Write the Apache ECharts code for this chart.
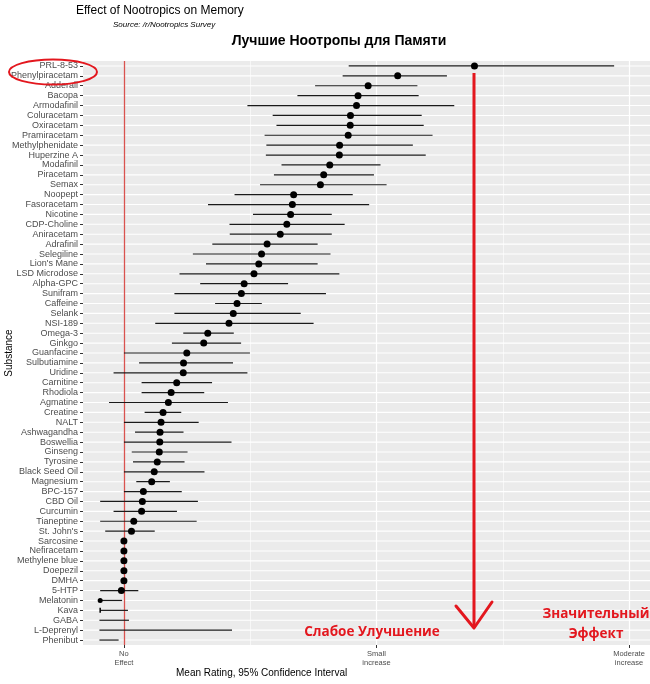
<!DOCTYPE html>
<html><head><meta charset="utf-8">
<script src="https://cdn.jsdelivr.net/npm/echarts@6/dist/echarts.min.js"></script>
<style>html,body{margin:0;padding:0;background:#fff}#c{width:650px;height:684px}</style>
</head><body><div id="c"></div>
<script>
const categories = ['PRL-8-53','Phenylpiracetam','Adderall','Bacopa','Armodafinil','Coluracetam','Oxiracetam','Pramiracetam','Methylphenidate','Huperzine A','Modafinil','Piracetam',
  'Semax','Noopept','Fasoracetam','Nicotine','CDP-Choline','Aniracetam','Adrafinil','Selegiline',"Lion's Mane",'LSD Microdose','Alpha-GPC','Sunifram',
  'Caffeine','Selank','NSI-189','Omega-3','Ginkgo','Guanfacine','Sulbutiamine','Uridine','Carnitine','Rhodiola','Agmatine','Creatine',
  'NALT','Ashwagandha','Boswellia','Ginseng','Tyrosine','Black Seed Oil','Magnesium','BPC-157','CBD Oil','Curcumin','Tianeptine',"St. John's",
  'Sarcosine','Nefiracetam','Methylene blue','Doepezil','DMHA','5-HTP','Melatonin','Kava','GABA','L-Deprenyl','Phenibut'];
const means = [1.388,1.084,0.967,0.927,0.921,0.897,0.896,0.888,0.854,0.853,0.815,0.791,
  0.778,0.672,0.667,0.660,0.645,0.619,0.567,0.545,0.534,0.515,0.476,0.465,
  0.448,0.433,0.416,0.332,0.316,0.249,0.236,0.235,0.209,0.187,0.176,0.155,
  0.147,0.143,0.142,0.140,0.132,0.120,0.110,0.077,0.073,0.070,0.039,0.030,
  0,0,0,0,0,-0.010,-0.094,-0.094,null,null,null];
const lows = [0.890,0.866,0.757,0.687,0.489,0.589,0.604,0.557,0.564,0.562,0.624,0.594,
  0.539,0.438,0.333,0.511,0.418,0.419,0.350,0.273,0.325,0.220,0.302,0.200,
  0.361,0.200,0.124,0.235,0.190,0.0,0.060,-0.041,0.070,0.070,-0.059,0.082,
  0.0,0.044,0.0,0.031,0.036,0.0,0.049,0.0,-0.094,-0.041,-0.094,-0.074,
  0,0,0,0,0,-0.094,-0.094,-0.094,-0.097,-0.097,-0.097];
const highs = [1.941,1.279,1.162,1.167,1.308,1.179,1.187,1.222,1.144,1.195,1.016,0.990,
  1.040,0.906,0.971,0.823,0.874,0.823,0.767,0.818,0.767,0.853,0.650,0.800,
  0.546,0.700,0.751,0.435,0.464,0.499,0.432,0.489,0.349,0.318,0.412,0.227,
  0.296,0.236,0.426,0.252,0.240,0.319,0.182,0.229,0.293,0.210,0.288,0.122,
  0,0,0,0,0,0.057,-0.007,0.016,0.020,0.428,-0.021];
const xTickValues = [0, 1, 2];
const xTickLabels = ['No\nEffect', 'Small\nincrease', 'Moderate\nincrease'];
const minorGridValues = [0.5, 1.5];
const smallPoints = {'Melatonin': 5, 'Kava': [1.5, 5]};

const chart = echarts.init(document.getElementById('c'), null, {renderer: 'canvas'});
const RED = '#e3171e';

const pointData = categories.map((c, i) => {
  if (means[i] === null) return [null, i];
  if (smallPoints[c] !== undefined) {
    return {value: [means[i], i], symbol: c === 'Kava' ? 'rect' : 'circle', symbolSize: smallPoints[c]};
  }
  return [means[i], i];
});
const barData = categories.map((c, i) => [lows[i], highs[i], i]);

const option = {
  animation: false,
  backgroundColor: '#ffffff',
  grid: {left: 83, right: 0, top: 61, bottom: 39, show: true, backgroundColor: '#ebebeb', borderWidth: 0},
  xAxis: {
    type: 'value', min: -0.162, max: 2.083,
    axisLine: {show: false, onZero: false},
    splitLine: {show: false},
    axisTick: {show: true, customValues: xTickValues, length: 3, lineStyle: {color: '#333333', width: 1}},
    axisLabel: {customValues: xTickValues, margin: 5, fontSize: 7.5, lineHeight: 8.5, color: '#4d4d4d',
      fontFamily: 'Liberation Sans', formatter: v => xTickLabels[xTickValues.indexOf(v)] || ''}
  },
  yAxis: {
    type: 'category', data: categories, inverse: true,
    axisLine: {show: false, onZero: false},
    splitLine: {show: false},
    axisTick: {show: true, alignWithLabel: true, length: 3, lineStyle: {color: '#333333', width: 1}},
    axisLabel: {interval: 0, margin: 5, fontSize: 9, color: '#4d4d4d', fontFamily: 'Liberation Sans'}
  },
  series: [
    {
      type: 'custom', name: 'rows', z: 1, silent: true,
      data: categories.map((c, i) => [i]),
      encode: {y: 0},
      renderItem: (params, api) => {
        const cs = params.coordSys;
        const y = api.coord([0, api.value(0)])[1];
        return {type: 'line', shape: {x1: cs.x, y1: y, x2: cs.x + cs.width, y2: y},
          style: {stroke: '#ffffff', lineWidth: 1.1}};
      },
      markLine: {
        silent: true, symbol: 'none', z: 1, animation: false,
        label: {show: false},
        data: [
          ...xTickValues.map(v => ({xAxis: v, lineStyle: {color: '#ffffff', width: 1.2, type: 'solid'}})),
          ...minorGridValues.map(v => ({xAxis: v, lineStyle: {color: '#ffffff', width: 0.6, type: 'solid'}}))
        ]
      }
    },
    {
      type: 'custom', name: 'ci', z: 3, silent: true,
      data: barData,
      encode: {x: [0, 1], y: 2},
      renderItem: (params, api) => {
        const lo = api.value(0), hi = api.value(1), cat = api.value(2);
        if (lo === hi) return null;
        const p1 = api.coord([lo, cat]);
        const p2 = api.coord([hi, cat]);
        return {type: 'line', shape: {x1: p1[0], y1: p1[1], x2: p2[0], y2: p2[1]},
          style: {stroke: '#1a1a1a', lineWidth: 1.2}};
      }
    },
    {
      type: 'scatter', name: 'mean', z: 4, silent: true,
      data: pointData, symbol: 'circle', symbolSize: 7,
      itemStyle: {color: '#000000', opacity: 1},
      markLine: {
        silent: true, symbol: 'none', z: 2, animation: false,
        label: {show: false},
        data: [{xAxis: 0, lineStyle: {color: '#d9534f', width: 1.3, type: 'solid'}}]
      }
    }
  ],
  graphic: [
    {type: 'text', z: 10, style: {text: 'Effect of Nootropics on Memory', x: 76, y: 11, textVerticalAlign: 'middle',
      font: '12px "Liberation Sans"', fill: '#000'}},
    {type: 'text', z: 10, style: {text: 'Source: /r/Nootropics Survey', x: 113, y: 25, textVerticalAlign: 'middle',
      font: 'italic 8px "Liberation Sans"', fill: '#000'}},
    {type: 'text', z: 10, style: {text: 'Лучшие Ноотропы для Памяти', x: 339, y: 41, textAlign: 'center', textVerticalAlign: 'middle',
      font: 'bold 14px "Liberation Sans"', fill: '#000'}},
    {type: 'text', z: 10, style: {text: 'Substance', x: 9, y: 353, textAlign: 'center', textVerticalAlign: 'middle',
      font: '10px "Liberation Sans"', fill: '#000'}, rotation: Math.PI / 2, x: 0, y: 0, originX: 9, originY: 353},
    {type: 'text', z: 10, style: {text: 'Mean Rating, 95% Confidence Interval', x: 176, y: 673, textVerticalAlign: 'middle',
      font: '10px "Liberation Sans"', fill: '#000'}},
    {type: 'text', z: 10, style: {text: 'Слабое Улучшение', x: 372, y: 632, textAlign: 'center', textVerticalAlign: 'middle',
      font: 'bold 13.5px "Open Sans"', fill: RED}},
    {type: 'text', z: 10, style: {text: 'Значительный', x: 596, y: 614, textAlign: 'center', textVerticalAlign: 'middle',
      font: 'bold 13.5px "Open Sans"', fill: RED}},
    {type: 'text', z: 10, style: {text: 'Эффект', x: 596, y: 634, textAlign: 'center', textVerticalAlign: 'middle',
      font: 'bold 13.5px "Open Sans"', fill: RED}},
    {type: 'line', z: 10, shape: {x1: 474, y1: 73, x2: 474, y2: 628}, style: {stroke: RED, lineWidth: 3}},
    {type: 'polyline', z: 10, shape: {points: [[456, 606], [474, 628], [492, 602]]}, style: {stroke: RED, lineWidth: 3, fill: null, lineJoin: 'round', lineCap: 'round'}},
    {type: 'ellipse', z: 10, shape: {cx: 53, cy: 72, rx: 44, ry: 12.5}, style: {stroke: RED, lineWidth: 2, fill: null}}
  ]
};
chart.setOption(option);
</script>
</body></html>
